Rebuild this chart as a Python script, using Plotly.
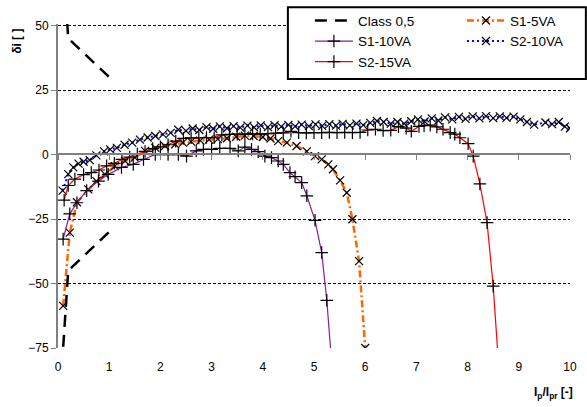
import plotly.graph_objects as go

# Accuracy class 0,5 phase-displacement limits (upper and lower branch)
class_x = [0.05, 0.2, 1.0, 1.1, None, 0.05, 0.2, 1.0, 1.1]
class_y = [90, 45, 30, 30, None, -90, -45, -30, -30]

# S1 core, 5 VA burden
s1_5_x = [0.1, 0.23, 0.37, 0.59, 0.75, 0.92, 1.11, 1.31, 1.5, 1.7, 1.9, 2.09, 2.29, 2.44,
          2.6, 2.78, 2.95, 3.12, 3.3, 3.48, 3.65, 3.82, 4.0, 4.15, 4.3, 4.47, 4.66, 4.86,
          5.02, 5.15, 5.28, 5.37, 5.51, 5.64, 5.75, 5.88, 6.0]
s1_5_y = [-58.7, -30.3, -18.5, -13.5, -10.3, -7.7, -4.5, -2.5, -1.2, 1.4, 2.6, 3.3, 4.0, 4.6,
          5.0, 5.4, 5.8, 6.0, 6.3, 6.9, 7.3, 7.2, 6.8, 6.2, 5.2, 4.6, 3.3, 1.2,
          -0.6, -1.9, -3.8, -5.7, -10.0, -14.8, -25.1, -41.3, -75.0]

# S1 core, 10 VA burden
s1_10_x = [0.1, 0.23, 0.37, 0.56, 0.79, 0.98, 1.24, 1.47, 1.67, 1.9, 2.15, 2.35, 2.51, 2.7,
           2.84, 3.0, 3.16, 3.36, 3.52, 3.65, 3.78, 3.91, 4.04, 4.17, 4.3, 4.4, 4.53, 4.63,
           4.76, 4.86, 5.02, 5.15, 5.25, 5.35]
s1_10_y = [-32.8, -23.0, -18.7, -14.0, -10.3, -7.7, -5.0, -3.8, -1.9, 0.0, 0.0, 0.0, -0.6, 1.4,
           2.0, 2.0, 2.4, 2.4, 1.4, 2.9, 2.0, 1.1, -0.6, -1.2, -2.5, -3.8, -7.0, -8.6,
           -10.9, -16.0, -25.5, -38.0, -56.5, -82.0]

# S2 core, 10 VA burden
s2_10_x = [0.09, 0.2, 0.3, 0.4, 0.5, 0.62, 0.75, 0.9, 1.02, 1.15, 1.3, 1.45, 1.6, 1.75, 1.9,
           2.05, 2.2, 2.35, 2.5, 2.63, 2.76, 2.9, 3.03, 3.16, 3.3, 3.43, 3.56, 3.7, 3.83,
           3.96, 4.1, 4.23, 4.36, 4.5, 4.63, 4.76, 4.9, 5.03, 5.16, 5.3, 5.43, 5.56, 5.7,
           5.83, 5.96, 6.1, 6.23, 6.36, 6.5, 6.63, 6.76, 6.9, 7.03, 7.16, 7.3, 7.43, 7.56,
           7.7, 7.83, 7.96, 8.1, 8.23, 8.36, 8.5, 8.63, 8.76, 8.9, 9.03, 9.16, 9.3, 9.52,
           9.65, 9.78, 9.9, 10.0]
s2_10_y = [-14.0, -7.6, -5.0, -3.5, -2.8, -2.2, -0.3, 1.2, 2.0, 2.6, 3.8, 4.6, 5.8, 6.6, 7.2,
           7.8, 8.4, 9.6, 9.2, 10.1, 9.5, 10.6, 10.0, 10.9, 10.2, 11.0, 10.4, 11.2, 10.5,
           11.3, 10.6, 11.4, 10.8, 11.5, 10.9, 11.6, 11.0, 11.7, 11.1, 11.8, 11.2, 11.9, 11.3,
           12.0, 11.4, 12.3, 13.0, 12.6, 12.0, 12.6, 12.0, 12.9, 13.6, 12.8, 14.0, 13.2, 14.4,
           13.6, 14.6, 13.8, 14.8, 14.0, 14.9, 14.1, 14.8, 14.2, 14.7, 13.6, 12.6, 11.6, 12.4,
           11.8, 12.6, 10.8, 10.2]

# S2 core, 15 VA burden
s2_15_x = [0.12, 0.2, 0.33, 0.5, 0.65, 0.8, 0.95, 1.1, 1.25, 1.4, 1.55, 1.7, 1.85, 2.0, 2.15,
           2.3, 2.45, 2.6, 2.75, 2.9, 3.05, 3.2, 3.35, 3.5, 3.65, 3.8, 3.95, 4.1, 4.25, 4.4,
           4.55, 4.7, 4.85, 5.0, 5.15, 5.3, 5.45, 5.6, 5.75, 5.9, 6.05, 6.2, 6.35, 6.5, 6.65,
           6.8, 6.9, 7.05, 7.15, 7.27, 7.4, 7.52, 7.66, 7.75, 7.85, 8.01, 8.11, 8.24, 8.38,
           8.5, 8.6]
s2_15_y = [-17.7, -12.0, -9.5, -7.8, -7.0, -6.0, -4.4, -3.4, -1.9, -1.0, 0.2, 1.2, 2.3, 3.0, 3.8,
           5.2, 6.3, 6.5, 6.4, 6.6, 6.5, 7.6, 7.8, 7.9, 7.8, 8.0, 7.9, 8.1, 8.3, 8.4,
           9.0, 8.5, 8.4, 8.5, 8.5, 8.6, 8.5, 8.6, 8.5, 8.6, 9.5, 9.8, 9.3, 9.4, 10.8,
           10.2, 9.0, 10.9, 11.2, 11.4, 10.7, 9.8, 8.5, 7.9, 6.5, 4.2, -0.6, -11.4, -26.4,
           -51.0, -80.0]

x_ticks = [0, 1, 2, 3, 4, 5, 6, 7, 8, 9, 10]
y_ticks = [-75, -50, -25, 0, 25, 50]

FONT = "Liberation Sans, Arial, sans-serif"
x_mark = dict(symbol="x-thin", size=8, line=dict(color="black", width=1.2), color="black")
plus_mark = dict(symbol="cross-thin", size=9, line=dict(color="black", width=1.2), color="black")

fig = go.Figure()
# the limit curves sit on the zero-crossing axis (x2), which matches the bottom axis
fig.add_trace(go.Scatter(x=class_x, y=class_y, name="Class 0,5", mode="lines",
                         xaxis="x2", legend="legend",
                         line=dict(color="black", width=2.5, dash="12px,8px"),
                         connectgaps=False))
fig.add_trace(go.Scatter(x=s1_5_x, y=s1_5_y, name="S1-5VA", mode="lines+markers",
                         legend="legend2",
                         line=dict(color="#FF6600", width=2.5, dash="7px,3px,2px,3px"),
                         marker=x_mark))
fig.add_trace(go.Scatter(x=s1_10_x, y=s1_10_y, name="S1-10VA", mode="lines+markers",
                         legend="legend",
                         line=dict(color="#8B1A9B", width=1.2), marker=plus_mark))
fig.add_trace(go.Scatter(x=s2_10_x, y=s2_10_y, name="S2-10VA", mode="lines+markers",
                         legend="legend2",
                         line=dict(color="#0000FF", width=2, dash="2px,3px"),
                         marker=x_mark))
fig.add_trace(go.Scatter(x=s2_15_x, y=s2_15_y, name="S2-15VA", mode="lines+markers",
                         legend="legend",
                         line=dict(color="#FF0000", width=1.2), marker=plus_mark))

legend_common = dict(orientation="v", yanchor="top", xanchor="left",
                     bgcolor="rgba(0,0,0,0)", borderwidth=0, itemwidth=38,
                     font=dict(size=13.5), traceorder="normal")

fig.update_layout(
    width=587, height=407,
    margin=dict(l=58, r=17, t=24, b=59, autoexpand=False),
    plot_bgcolor="white", paper_bgcolor="white",
    font=dict(family=FONT, size=12, color="black"),
    xaxis=dict(range=[0, 10], tickvals=x_ticks, anchor="y", side="bottom",
               showline=False, showgrid=False, zeroline=False,
               ticks="outside", ticklen=8, tickcolor="rgba(0,0,0,0)",
               tickfont=dict(size=12)),
    xaxis2=dict(range=[0, 10], tickvals=x_ticks, matches="x", overlaying="x",
                anchor="free", position=0.6,
                showline=True, linecolor="#808080", linewidth=2,
                ticks="outside", ticklen=5, tickcolor="#808080", tickwidth=1,
                showticklabels=False, showgrid=False, zeroline=False),
    yaxis=dict(range=[-75, 50.6], tickvals=y_ticks, showgrid=True, gridcolor="black",
               griddash="3px,2px", gridwidth=1, zeroline=False,
               showline=True, linecolor="#808080", linewidth=2,
               ticks="outside", ticklen=5, tickcolor="#808080", tickfont=dict(size=12)),
    legend=dict(x=0.492, y=1.058, **legend_common),
    legend2=dict(x=0.789, y=1.058, **legend_common),
    shapes=[dict(type="rect", xref="paper", yref="paper", x0=0.449, x1=1.031,
                 y0=0.830, y1=1.052, line=dict(color="black", width=2),
                 fillcolor="white", layer="above")],
    annotations=[
        dict(text="<b>δi [ ]</b>", xref="paper", yref="paper", x=-0.08, y=0.945,
             xanchor="center", yanchor="middle",
             textangle=-90, showarrow=False, font=dict(size=12)),
        dict(text="<b>I<sub>p</sub>/I<sub>pr</sub> [-]</b>", xref="paper", yref="paper",
             x=0.967, y=-0.139, xanchor="center", yanchor="middle",
             showarrow=False, font=dict(size=12)),
    ],
)

fig.write_html("out.html")
